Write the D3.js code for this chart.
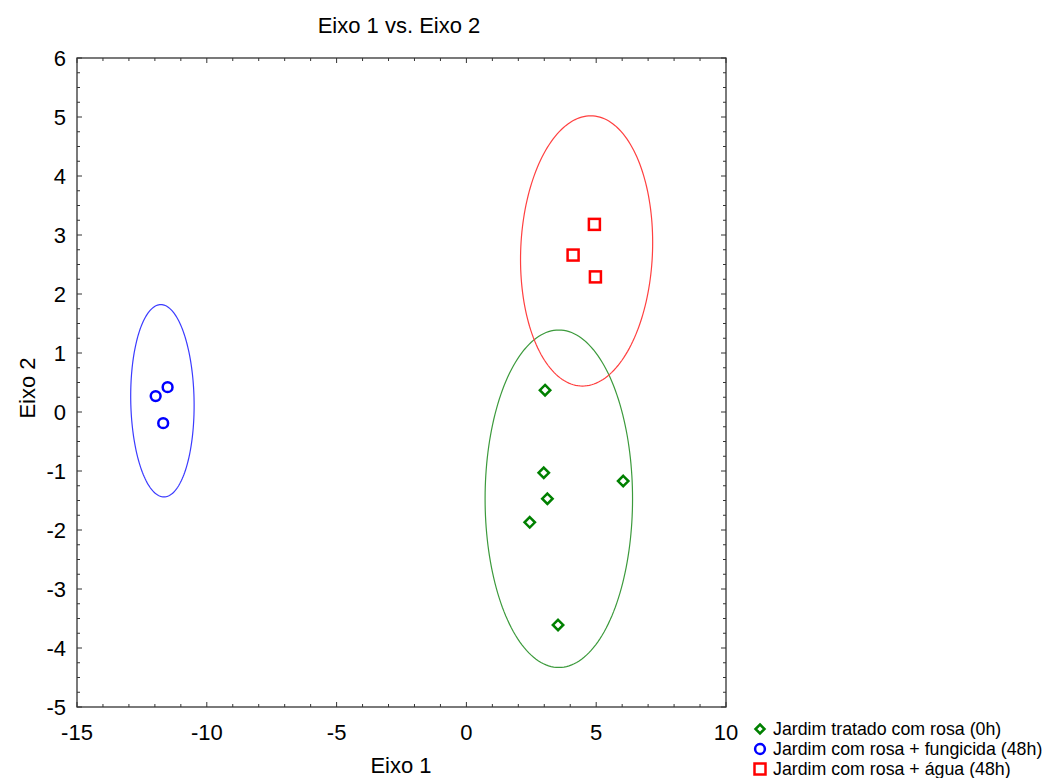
<!DOCTYPE html>
<html>
<head>
<meta charset="utf-8">
<script src="https://cdn.jsdelivr.net/npm/d3@7"></script>
<style>
  body { margin: 0; background: #fff; }
  text { font-family: "Liberation Sans", Arial, sans-serif; }
</style>
</head>
<body>
<svg id="viz" width="1045" height="778"></svg>
<script>
// group names (legend order)
var groups = ["Jardim tratado com rosa (0h)", "Jardim com rosa + fungicida (48h)", "Jardim com rosa + água (48h)"];

// scores
var greenX = [3.03, 2.98, 3.12, 2.44, 6.04, 3.53];
var greenY = [0.37, -1.03, -1.47, -1.87, -1.17, -3.61];
var blueX = [-11.97, -11.51, -11.68];
var blueY = [0.27, 0.42, -0.19];
var redX = [4.93, 4.11, 4.97];
var redY = [3.18, 2.66, 2.29];

// ellipses: centre, half widths, top lean (data units)
var ellCx = [3.56, -11.71, 4.63];
var ellCy = [-1.47, 0.19, 2.73];
var ellRx = [2.84, 1.22, 2.54];
var ellRy = [2.86, 1.63, 2.29];
var ellLean = [0.0, -0.06, 0.16];

var xTicks = [-15, -10, -5, 0, 5, 10];
var yTicks = [-5, -4, -3, -2, -1, 0, 1, 2, 3, 4, 5, 6];

var markColor = ["#008000", "#0000ff", "#ff0000"];
var ellColor = ["#3c9a3c", "#3b3bff", "#ff4040"];

var svg = d3.select('svg#viz');
var pLeft = 77, pRight = 726, pTop = 58, pBottom = 707;

var x = d3.scaleLinear().domain([-15, 10]).range([pLeft, pRight]);
var y = d3.scaleLinear().domain([-5, 6]).range([pBottom, pTop]);

// frame
svg.append('rect')
    .attr('x', pLeft).attr('y', pTop)
    .attr('width', pRight - pLeft).attr('height', pBottom - pTop)
    .attr('fill', 'none').attr('stroke', '#333').attr('stroke-width', 1.3);

// ticks pointing inward on all sides
var xMinor = d3.range(-15, 10.01, 1);
var yMinor = d3.range(-5, 6.01, 0.25);
var tk = svg.append('g').attr('stroke', '#333').attr('stroke-width', 1);

xMinor.forEach(function(v) {
    var len = (v % 5 === 0) ? 5 : 3;
    tk.append('line').attr('x1', x(v)).attr('x2', x(v)).attr('y1', pBottom).attr('y2', pBottom - len);
    tk.append('line').attr('x1', x(v)).attr('x2', x(v)).attr('y1', pTop).attr('y2', pTop + len);
});
yMinor.forEach(function(v) {
    var len = (Math.abs(v % 1) < 1e-6) ? 5 : 3;
    tk.append('line').attr('y1', y(v)).attr('y2', y(v)).attr('x1', pLeft).attr('x2', pLeft + len);
    tk.append('line').attr('y1', y(v)).attr('y2', y(v)).attr('x1', pRight).attr('x2', pRight - len);
});

// tick labels
svg.selectAll('text.xt').data(xTicks).enter().append('text')
    .attr('class', 'xt')
    .attr('x', function(d) { return x(d); })
    .attr('y', pBottom + 33)
    .attr('text-anchor', 'middle')
    .attr('font-size', 22)
    .text(function(d) { return d; });

svg.selectAll('text.yt').data(yTicks).enter().append('text')
    .attr('class', 'yt')
    .attr('x', pLeft - 11)
    .attr('y', function(d) { return y(d) + 8; })
    .attr('text-anchor', 'end')
    .attr('font-size', 22)
    .text(function(d) { return d; });

// titles
svg.append('text').attr('x', 399).attr('y', 33).attr('text-anchor', 'middle')
    .attr('font-size', 22).text('Eixo 1 vs. Eixo 2');
svg.append('text').attr('x', 401).attr('y', 773).attr('text-anchor', 'middle')
    .attr('font-size', 22).text('Eixo 1');
svg.append('text').attr('transform', 'translate(35,388) rotate(-90)').attr('text-anchor', 'middle')
    .attr('font-size', 22).text('Eixo 2');

// ellipses
var tt = d3.range(0, 2 * Math.PI + 0.001, Math.PI / 90);
var line = d3.line().x(function(d) { return x(d[0]); }).y(function(d) { return y(d[1]); });
ellCx.forEach(function(cx, i) {
    var pts = tt.map(function(t) {
        return [cx + ellRx[i] * Math.cos(t) + ellLean[i] * Math.sin(t), ellCy[i] + ellRy[i] * Math.sin(t)];
    });
    svg.append('path').attr('d', line(pts))
        .attr('fill', 'none').attr('stroke', ellColor[i]).attr('stroke-width', 1.2);
});

// markers
function diamond(g, cx, cy, s) {
    g.append('path')
        .attr('d', 'M' + cx + ',' + (cy - s) + 'L' + (cx + s) + ',' + cy + 'L' + cx + ',' + (cy + s) + 'L' + (cx - s) + ',' + cy + 'Z')
        .attr('fill', 'none').attr('stroke', markColor[0]).attr('stroke-width', 2.5);
}
function circ(g, cx, cy) {
    g.append('circle').attr('cx', cx).attr('cy', cy).attr('r', 4.9)
        .attr('fill', 'none').attr('stroke', markColor[1]).attr('stroke-width', 2.5);
}
function square(g, cx, cy) {
    g.append('rect').attr('x', cx - 5.5).attr('y', cy - 5.5).attr('width', 11).attr('height', 11)
        .attr('fill', 'none').attr('stroke', markColor[2]).attr('stroke-width', 2.5);
}

var pts = svg.append('g');
greenX.forEach(function(v, i) { diamond(pts, x(v), y(greenY[i]), 5.2); });
blueX.forEach(function(v, i) { circ(pts, x(v), y(blueY[i])); });
redX.forEach(function(v, i) { square(pts, x(v), y(redY[i])); });

// legend
var legY = [729, 749, 769];
var leg = svg.append('g');
diamond(leg, 760, legY[0], 4.5);
circ(leg, 760, legY[1]);
square(leg, 760, legY[2]);
groups.forEach(function(g, i) {
    leg.append('text').attr('x', 773).attr('y', legY[i] + 6)
        .attr('font-size', 17.8).text(g);
});
</script>
</body>
</html>
